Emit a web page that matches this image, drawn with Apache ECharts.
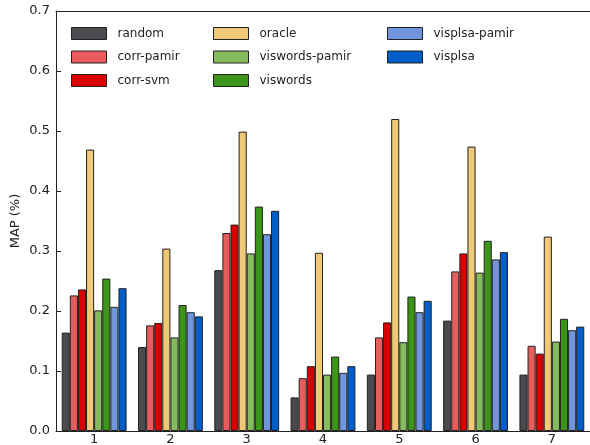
<!DOCTYPE html>
<html>
<head>
<meta charset="utf-8">
<script src="https://cdn.jsdelivr.net/npm/echarts@6/dist/echarts.min.js"></script>
<style>
  html, body { margin: 0; padding: 0; background: #fff; }
  #chart { width: 590px; height: 445px; }
</style>
</head>
<body>
<div id="chart"></div>
<script>
// Query categories and per-method MAP scores
const categories = ['1', '2', '3', '4', '5', '6', '7'];
const yTicks = [0, 0.1, 0.2, 0.3, 0.4, 0.5, 0.6, 0.7];

const random        = [0.164, 0.140, 0.268, 0.056, 0.094, 0.184, 0.094];
const corrPamir     = [0.226, 0.176, 0.330, 0.088, 0.156, 0.266, 0.142];
const corrSvm       = [0.236, 0.180, 0.344, 0.108, 0.181, 0.296, 0.129];
const oracle        = [0.469, 0.304, 0.499, 0.297, 0.520, 0.474, 0.324];
const viswordsPamir = [0.201, 0.156, 0.296, 0.094, 0.148, 0.264, 0.149];
const viswords      = [0.254, 0.210, 0.374, 0.124, 0.224, 0.317, 0.187];
const visplsaPamir  = [0.207, 0.198, 0.328, 0.097, 0.198, 0.286, 0.168];
const visplsa       = [0.238, 0.191, 0.367, 0.108, 0.217, 0.298, 0.174];

const seriesDefs = [
  { name: 'random',         data: random,        color: '#4a4a4f' },
  { name: 'corr-pamir',     data: corrPamir,     color: '#e85c5e' },
  { name: 'corr-svm',       data: corrSvm,       color: '#d90000' },
  { name: 'oracle',         data: oracle,        color: '#f0c978' },
  { name: 'viswords-pamir', data: viswordsPamir, color: '#86ba5e' },
  { name: 'viswords',       data: viswords,      color: '#3c9418' },
  { name: 'visplsa-pamir',  data: visplsaPamir,  color: '#7196dc' },
  { name: 'visplsa',        data: visplsa,       color: '#005ec8' }
];

const font = 'DejaVu Sans';
const axisColor = '#222';

function legendColumn(names, left) {
  return {
    data: names,
    orient: 'vertical',
    left: left,
    top: 27,
    icon: 'rect',
    itemWidth: 35,
    itemHeight: 12,
    itemGap: 10.5,
    padding: 0,
    selectedMode: false,
    itemStyle: { borderColor: '#222', borderWidth: 1 },
    textStyle: {
      fontFamily: font, fontSize: 12, color: '#222',
      lineHeight: 12, padding: [0, 0, 0, 6]
    }
  };
}

const chart = echarts.init(document.getElementById('chart'), null, { renderer: 'canvas' });

chart.setOption({
  animation: false,
  backgroundColor: '#fff',
  grid: {
    left: 56, right: 0, top: 11, bottom: 14,
    containLabel: false,
    outerBoundsMode: 'none'
  },
  legend: [
    legendColumn(['random', 'corr-pamir', 'corr-svm'], 71),
    legendColumn(['oracle', 'viswords-pamir', 'viswords'], 213),
    legendColumn(['visplsa-pamir', 'visplsa'], 387)
  ],
  xAxis: [
    {
      type: 'category',
      data: categories,
      boundaryGap: true,
      axisLine: { lineStyle: { color: axisColor, width: 1 } },
      axisTick: { inside: true, length: 5, alignWithLabel: true, lineStyle: { color: axisColor } },
      axisLabel: { fontFamily: font, fontSize: 13, color: '#222', margin: 2 },
      splitLine: { show: false }
    },
    {
      type: 'category',
      data: categories,
      position: 'top',
      boundaryGap: true,
      axisLine: { lineStyle: { color: axisColor, width: 1 } },
      axisTick: { inside: true, length: 5, alignWithLabel: true, lineStyle: { color: axisColor } },
      axisLabel: { show: false },
      splitLine: { show: false }
    }
  ],
  yAxis: {
    type: 'value',
    min: yTicks[0],
    max: yTicks[yTicks.length - 1],
    interval: 0.1,
    name: 'MAP (%)',
    nameLocation: 'middle',
    nameGap: 34,
    nameMoveOverlap: false,
    nameTextStyle: { fontFamily: font, fontSize: 13, color: '#222' },
    axisLine: { show: true, lineStyle: { color: axisColor, width: 1 } },
    axisTick: { show: true, inside: true, length: 5, lineStyle: { color: axisColor } },
    axisLabel: {
      fontFamily: font, fontSize: 13, color: '#222', margin: 6,
      formatter: v => v.toFixed(1)
    },
    splitLine: { show: false }
  },
  series: seriesDefs.map(s => ({
    name: s.name,
    type: 'bar',
    data: s.data,
    barGap: '0%',
    barCategoryGap: '15%',
    itemStyle: { color: s.color, borderColor: '#222', borderWidth: 1 }
  }))
});
</script>
</body>
</html>
